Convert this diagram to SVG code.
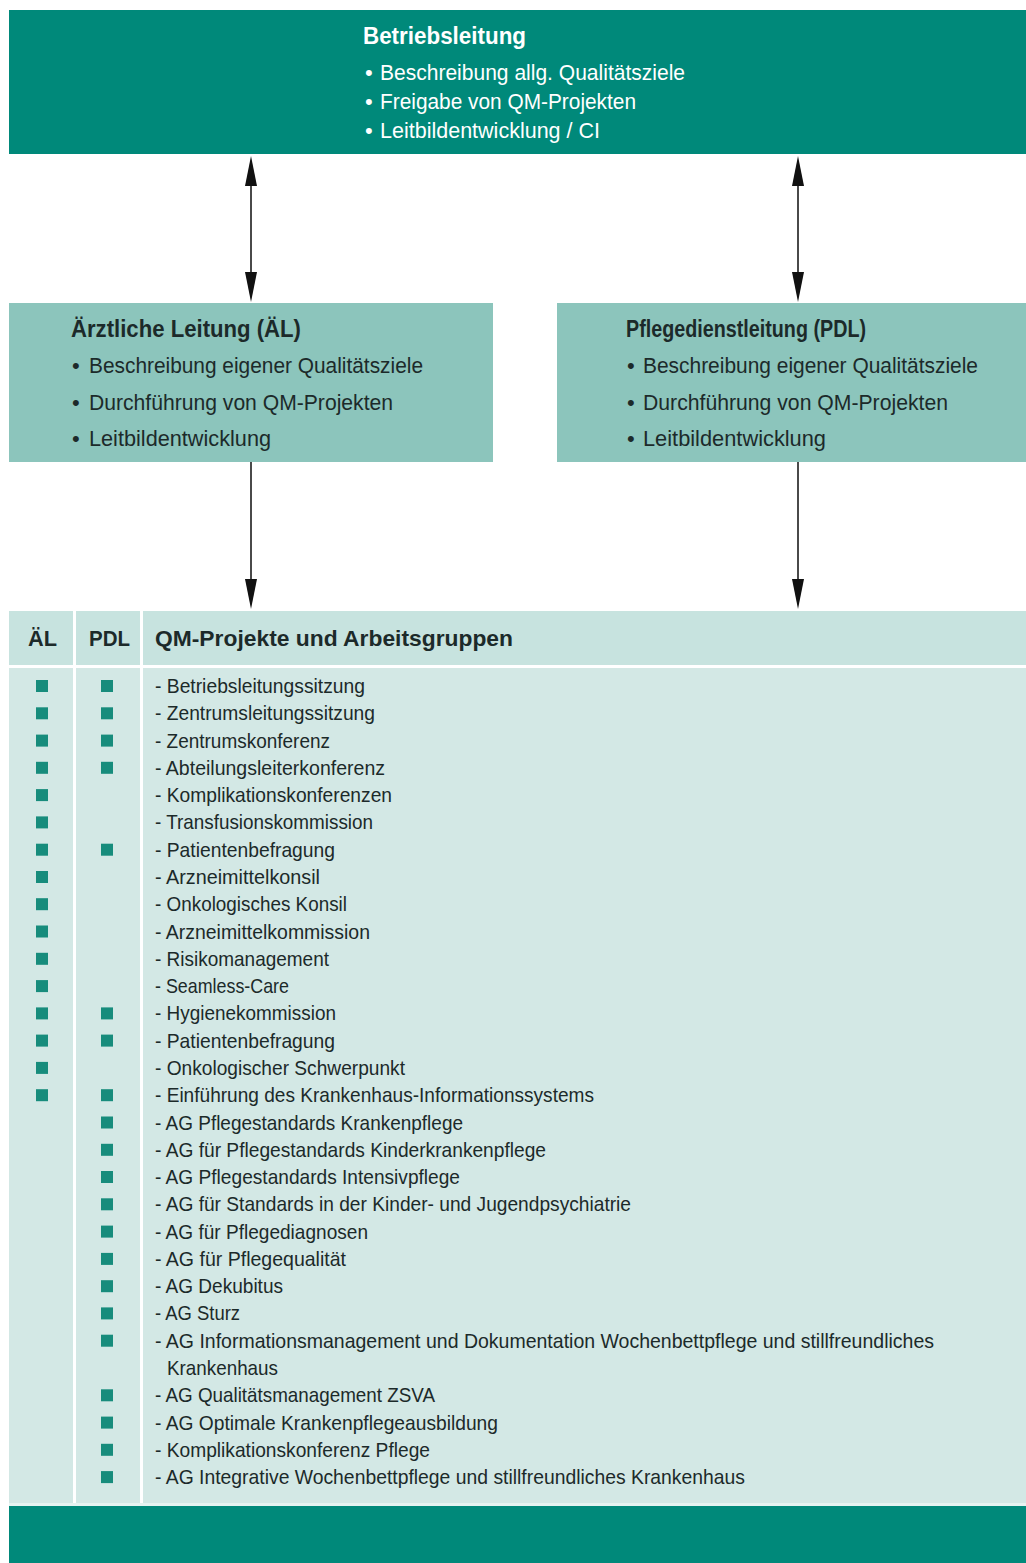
<svg xmlns="http://www.w3.org/2000/svg" width="1026" height="1563" viewBox="0 0 1026 1563">
<style>
text{font-family:"Liberation Sans",Arial,sans-serif}
.dark{fill:#00897a}
.mid{fill:#8cc5bc}
.hd{fill:#c7e3df}
.body{fill:#d3e8e5}
.wt{fill:#ffffff}
.ttl{font-weight:bold;font-size:23px}
.bul{font-size:22px}
.wtxt{fill:#ffffff}
.dtxt{fill:#1c2a2a}
.row{font-size:21px;fill:#1c2a2a}
.th{font-weight:bold;font-size:22px;fill:#1c2a2a}
.sq{fill:#178c7c}
.conn{stroke:#4a4a4a;stroke-width:2;fill:none}
</style>
<defs>
<marker id="ah" viewBox="0 0 30 12" refX="5" refY="6" markerWidth="30" markerHeight="12" markerUnits="userSpaceOnUse" orient="auto-start-reverse">
<path d="M0,0 L30,6 L0,12 Z" fill="#111"/>
</marker>
</defs>
<rect width="1026" height="1563" fill="#ffffff"/>

<g id="betriebsleitung">
<rect class="dark" x="9" y="10" width="1017" height="144"/>
<text class="ttl wtxt" x="363" y="44" textLength="163" lengthAdjust="spacingAndGlyphs">Betriebsleitung</text>
<text class="bul wtxt" x="365" y="80">•</text>
<text class="bul wtxt" x="380" y="80" textLength="305" lengthAdjust="spacingAndGlyphs">Beschreibung allg. Qualitätsziele</text>
<text class="bul wtxt" x="365" y="109">•</text>
<text class="bul wtxt" x="380" y="109" textLength="256" lengthAdjust="spacingAndGlyphs">Freigabe von QM-Projekten</text>
<text class="bul wtxt" x="365" y="138">•</text>
<text class="bul wtxt" x="380" y="138" textLength="220" lengthAdjust="spacingAndGlyphs">Leitbildentwicklung / CI</text>
</g>

<g id="aerztliche-leitung">
<rect class="mid" x="9" y="303" width="484" height="159"/>
<text class="ttl dtxt" x="71" y="337" textLength="230" lengthAdjust="spacingAndGlyphs">Ärztliche Leitung (ÄL)</text>
<text class="bul dtxt" x="72" y="373">•</text>
<text class="bul dtxt" x="89" y="373" textLength="334" lengthAdjust="spacingAndGlyphs">Beschreibung eigener Qualitätsziele</text>
<text class="bul dtxt" x="72" y="410">•</text>
<text class="bul dtxt" x="89" y="410" textLength="304" lengthAdjust="spacingAndGlyphs">Durchführung von QM-Projekten</text>
<text class="bul dtxt" x="72" y="446">•</text>
<text class="bul dtxt" x="89" y="446" textLength="182" lengthAdjust="spacingAndGlyphs">Leitbildentwicklung</text>
</g>

<g id="pflegedienstleitung">
<rect class="mid" x="557" y="303" width="469" height="159"/>
<text class="ttl dtxt" x="626" y="337" textLength="240" lengthAdjust="spacingAndGlyphs">Pflegedienstleitung (PDL)</text>
<text class="bul dtxt" x="627" y="373">•</text>
<text class="bul dtxt" x="643" y="373" textLength="335" lengthAdjust="spacingAndGlyphs">Beschreibung eigener Qualitätsziele</text>
<text class="bul dtxt" x="627" y="410">•</text>
<text class="bul dtxt" x="643" y="410" textLength="305" lengthAdjust="spacingAndGlyphs">Durchführung von QM-Projekten</text>
<text class="bul dtxt" x="627" y="446">•</text>
<text class="bul dtxt" x="643" y="446" textLength="183" lengthAdjust="spacingAndGlyphs">Leitbildentwicklung</text>
</g>

<g id="connectors">
<line class="conn" x1="251" y1="181" x2="251" y2="277" marker-start="url(#ah)" marker-end="url(#ah)"/>
<line class="conn" x1="798" y1="181" x2="798" y2="277" marker-start="url(#ah)" marker-end="url(#ah)"/>
<line class="conn" x1="251" y1="462" x2="251" y2="584" marker-end="url(#ah)"/>
<line class="conn" x1="798" y1="462" x2="798" y2="584" marker-end="url(#ah)"/>
</g>

<g id="qm-tabelle">
<rect class="hd" x="9" y="611" width="1017" height="54"/>
<rect class="wt" x="9" y="665" width="1017" height="3"/>
<rect class="body" x="9" y="668" width="1017" height="835"/>
<rect class="wt" x="73" y="611" width="3" height="892"/>
<rect class="wt" x="140" y="611" width="3" height="892"/>
<text class="th" x="28" y="646" textLength="29" lengthAdjust="spacingAndGlyphs">ÄL</text>
<text class="th" x="89" y="646" textLength="41" lengthAdjust="spacingAndGlyphs">PDL</text>
<text class="th" x="155" y="646" textLength="358" lengthAdjust="spacingAndGlyphs">QM-Projekte und Arbeitsgruppen</text>

<g id="al-marks">
<rect class="sq" x="36" y="680" width="12" height="12"/>
<rect class="sq" x="36" y="707.3" width="12" height="12"/>
<rect class="sq" x="36" y="734.6" width="12" height="12"/>
<rect class="sq" x="36" y="761.8" width="12" height="12"/>
<rect class="sq" x="36" y="789.1" width="12" height="12"/>
<rect class="sq" x="36" y="816.4" width="12" height="12"/>
<rect class="sq" x="36" y="843.7" width="12" height="12"/>
<rect class="sq" x="36" y="871" width="12" height="12"/>
<rect class="sq" x="36" y="898.2" width="12" height="12"/>
<rect class="sq" x="36" y="925.5" width="12" height="12"/>
<rect class="sq" x="36" y="952.8" width="12" height="12"/>
<rect class="sq" x="36" y="980.1" width="12" height="12"/>
<rect class="sq" x="36" y="1007.4" width="12" height="12"/>
<rect class="sq" x="36" y="1034.6" width="12" height="12"/>
<rect class="sq" x="36" y="1061.9" width="12" height="12"/>
<rect class="sq" x="36" y="1089.2" width="12" height="12"/>
</g>
<g id="pdl-marks">
<rect class="sq" x="101" y="680" width="12" height="12"/>
<rect class="sq" x="101" y="707.3" width="12" height="12"/>
<rect class="sq" x="101" y="734.6" width="12" height="12"/>
<rect class="sq" x="101" y="761.8" width="12" height="12"/>
<rect class="sq" x="101" y="843.7" width="12" height="12"/>
<rect class="sq" x="101" y="1007.4" width="12" height="12"/>
<rect class="sq" x="101" y="1034.6" width="12" height="12"/>
<rect class="sq" x="101" y="1089.2" width="12" height="12"/>
<rect class="sq" x="101" y="1116.5" width="12" height="12"/>
<rect class="sq" x="101" y="1143.8" width="12" height="12"/>
<rect class="sq" x="101" y="1171" width="12" height="12"/>
<rect class="sq" x="101" y="1198.3" width="12" height="12"/>
<rect class="sq" x="101" y="1225.6" width="12" height="12"/>
<rect class="sq" x="101" y="1252.9" width="12" height="12"/>
<rect class="sq" x="101" y="1280.2" width="12" height="12"/>
<rect class="sq" x="101" y="1307.4" width="12" height="12"/>
<rect class="sq" x="101" y="1334.7" width="12" height="12"/>
<rect class="sq" x="101" y="1389.3" width="12" height="12"/>
<rect class="sq" x="101" y="1416.6" width="12" height="12"/>
<rect class="sq" x="101" y="1443.8" width="12" height="12"/>
<rect class="sq" x="101" y="1471.1" width="12" height="12"/>
</g>
<g id="rows">
<text class="row" x="155" y="693" textLength="210" lengthAdjust="spacingAndGlyphs">- Betriebsleitungssitzung</text>
<text class="row" x="155" y="720.3" textLength="220" lengthAdjust="spacingAndGlyphs">- Zentrumsleitungssitzung</text>
<text class="row" x="155" y="747.6" textLength="175" lengthAdjust="spacingAndGlyphs">- Zentrumskonferenz</text>
<text class="row" x="155" y="774.8" textLength="230" lengthAdjust="spacingAndGlyphs">- Abteilungsleiterkonferenz</text>
<text class="row" x="155" y="802.1" textLength="237" lengthAdjust="spacingAndGlyphs">- Komplikationskonferenzen</text>
<text class="row" x="155" y="829.4" textLength="218" lengthAdjust="spacingAndGlyphs">- Transfusionskommission</text>
<text class="row" x="155" y="856.7" textLength="180" lengthAdjust="spacingAndGlyphs">- Patientenbefragung</text>
<text class="row" x="155" y="884" textLength="165" lengthAdjust="spacingAndGlyphs">- Arzneimittelkonsil</text>
<text class="row" x="155" y="911.2" textLength="192" lengthAdjust="spacingAndGlyphs">- Onkologisches Konsil</text>
<text class="row" x="155" y="938.5" textLength="215" lengthAdjust="spacingAndGlyphs">- Arzneimittelkommission</text>
<text class="row" x="155" y="965.8" textLength="174" lengthAdjust="spacingAndGlyphs">- Risikomanagement</text>
<text class="row" x="155" y="993.1" textLength="134" lengthAdjust="spacingAndGlyphs">- Seamless-Care</text>
<text class="row" x="155" y="1020.4" textLength="181" lengthAdjust="spacingAndGlyphs">- Hygienekommission</text>
<text class="row" x="155" y="1047.6" textLength="180" lengthAdjust="spacingAndGlyphs">- Patientenbefragung</text>
<text class="row" x="155" y="1074.9" textLength="250" lengthAdjust="spacingAndGlyphs">- Onkologischer Schwerpunkt</text>
<text class="row" x="155" y="1102.2" textLength="439" lengthAdjust="spacingAndGlyphs">- Einführung des Krankenhaus-Informationssystems</text>
<text class="row" x="155" y="1129.5" textLength="308" lengthAdjust="spacingAndGlyphs">- AG Pflegestandards Krankenpflege</text>
<text class="row" x="155" y="1156.8" textLength="391" lengthAdjust="spacingAndGlyphs">- AG für Pflegestandards Kinderkrankenpflege</text>
<text class="row" x="155" y="1184" textLength="305" lengthAdjust="spacingAndGlyphs">- AG Pflegestandards Intensivpflege</text>
<text class="row" x="155" y="1211.3" textLength="476" lengthAdjust="spacingAndGlyphs">- AG für Standards in der Kinder- und Jugendpsychiatrie</text>
<text class="row" x="155" y="1238.6" textLength="213" lengthAdjust="spacingAndGlyphs">- AG für Pflegediagnosen</text>
<text class="row" x="155" y="1265.9" textLength="191" lengthAdjust="spacingAndGlyphs">- AG für Pflegequalität</text>
<text class="row" x="155" y="1293.2" textLength="128" lengthAdjust="spacingAndGlyphs">- AG Dekubitus</text>
<text class="row" x="155" y="1320.4" textLength="85" lengthAdjust="spacingAndGlyphs">- AG Sturz</text>
<text class="row" x="155" y="1347.7" textLength="779" lengthAdjust="spacingAndGlyphs">- AG Informationsmanagement und Dokumentation Wochenbettpflege und stillfreundliches</text>
<text class="row" x="167" y="1375" textLength="111" lengthAdjust="spacingAndGlyphs">Krankenhaus</text>
<text class="row" x="155" y="1402.3" textLength="280" lengthAdjust="spacingAndGlyphs">- AG Qualitätsmanagement ZSVA</text>
<text class="row" x="155" y="1429.6" textLength="343" lengthAdjust="spacingAndGlyphs">- AG Optimale Krankenpflegeausbildung</text>
<text class="row" x="155" y="1456.8" textLength="275" lengthAdjust="spacingAndGlyphs">- Komplikationskonferenz Pflege</text>
<text class="row" x="155" y="1484.1" textLength="590" lengthAdjust="spacingAndGlyphs">- AG Integrative Wochenbettpflege und stillfreundliches Krankenhaus</text>
</g>
</g>

<g id="fussleiste">
<rect fill="#e6f3f1" x="9" y="1503" width="1017" height="3"/>
<rect class="dark" x="9" y="1506" width="1017" height="57"/>
</g>
</svg>
